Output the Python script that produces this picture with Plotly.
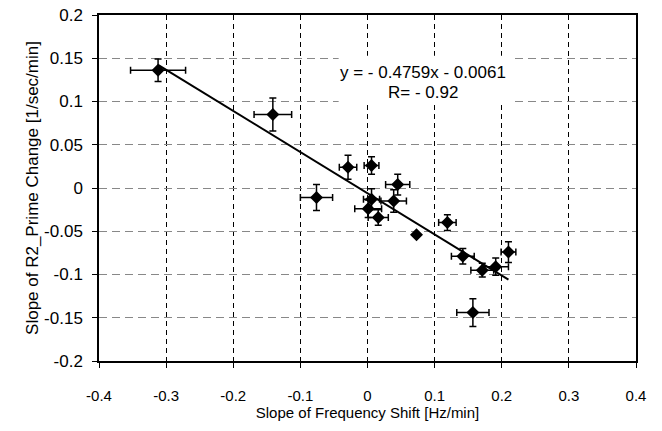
import plotly.graph_objects as go

# Data
freq_slope = [-0.312, -0.141, -0.076, -0.029, 0.006, 0.045, 0.006, 0.001, 0.016,
              0.039, 0.073, 0.119, 0.142, 0.171, 0.191, 0.210, 0.157]
r2_slope = [0.136, 0.085, -0.011, 0.024, 0.026, 0.004, -0.013, -0.024, -0.034,
            -0.015, -0.054, -0.040, -0.079, -0.095, -0.091, -0.074, -0.144]
freq_err = [0.041, 0.028, 0.024, 0.013, 0.011, 0.018, 0.012, 0.020, 0.015,
            0.019, 0.0, 0.013, 0.017, 0.017, 0.019, 0.011, 0.024]
r2_err = [0.013, 0.019, 0.015, 0.014, 0.010, 0.012, 0.012, 0.010, 0.009,
          0.013, 0.0, 0.009, 0.009, 0.008, 0.010, 0.012, 0.016]

fit_slope = -0.4759
fit_intercept = -0.0061
fit_label = "y = - 0.4759x - 0.0061"
r_label = "R= - 0.92"

x_ticks = [-0.4, -0.3, -0.2, -0.1, 0, 0.1, 0.2, 0.3, 0.4]
x_tick_text = ["-0.4", "-0.3", "-0.2", "-0.1", "0", "0.1", "0.2", "0.3", "0.4"]
y_ticks = [-0.2, -0.15, -0.1, -0.05, 0, 0.05, 0.1, 0.15, 0.2]
y_tick_text = ["-0.2", "-0.15", "-0.1", "-0.05", "0", "0.05", "0.1", "0.15", "0.2"]

FONT = "Liberation Sans, Arial, Helvetica, sans-serif"

fig = go.Figure()

# trend line
x_fit = [min(freq_slope), max(freq_slope)]
y_fit = [fit_slope * v + fit_intercept for v in x_fit]
fig.add_trace(go.Scatter(x=x_fit, y=y_fit, mode="lines",
                         line=dict(color="black", width=2), hoverinfo="skip"))

fig.add_trace(go.Scatter(
    x=freq_slope, y=r2_slope, mode="markers",
    marker=dict(symbol="diamond", size=10, color="black"),
    error_x=dict(type="data", array=freq_err, color="black", thickness=1.5, width=3.5),
    error_y=dict(type="data", array=r2_err, color="black", thickness=1.5, width=3.5),
))

# white box behind the equation (hides the grid lines)
fig.add_shape(type="rect", x0=-0.043, x1=0.213, y0=0.097, y1=0.153,
              xref="x", yref="y", fillcolor="white", line=dict(width=0),
              layer="between")

fig.add_annotation(x=0.082, y=0.134, xref="x", yref="y", text=fit_label,
                   showarrow=False, font=dict(family=FONT, size=17, color="black"))
fig.add_annotation(x=0.082, y=0.110, xref="x", yref="y", text=r_label,
                   showarrow=False, font=dict(family=FONT, size=17, color="black"))

fig.update_layout(
    width=662, height=431,
    margin=dict(l=99, r=26, t=15, b=70),
    paper_bgcolor="white", plot_bgcolor="white",
    showlegend=False,
    font=dict(family=FONT, color="black"),
    xaxis=dict(
        range=[-0.4, 0.4], tickvals=x_ticks, ticktext=x_tick_text,
        showline=True, linecolor="black", linewidth=1.5, mirror=True,
        ticks="outside", ticklen=5, tickcolor="black",
        showgrid=True, gridcolor="black", griddash="5px,4px", gridwidth=1,
        zeroline=False, tickfont=dict(size=15), ticklabelstandoff=15,
        automargin=False,
        title=dict(text="Slope of Frequency Shift [Hz/min]", font=dict(size=15), standoff=2),
    ),
    yaxis=dict(
        range=[-0.2, 0.2], tickvals=y_ticks, ticktext=y_tick_text,
        showline=True, linecolor="black", linewidth=1.5, mirror=True,
        ticks="outside", ticklen=5, tickcolor="black",
        showgrid=True, gridcolor="#888888", griddash="8px,5px", gridwidth=1,
        zeroline=False, tickfont=dict(size=17), ticklabelstandoff=6,
        automargin=False,
        title=dict(text="Slope of R2_Prime Change [1/sec/min]", font=dict(size=17), standoff=1),
    ),
)

fig.write_html("out.html", config={"displayModeBar": False},
               post_script="document.body.style.margin='0';")
